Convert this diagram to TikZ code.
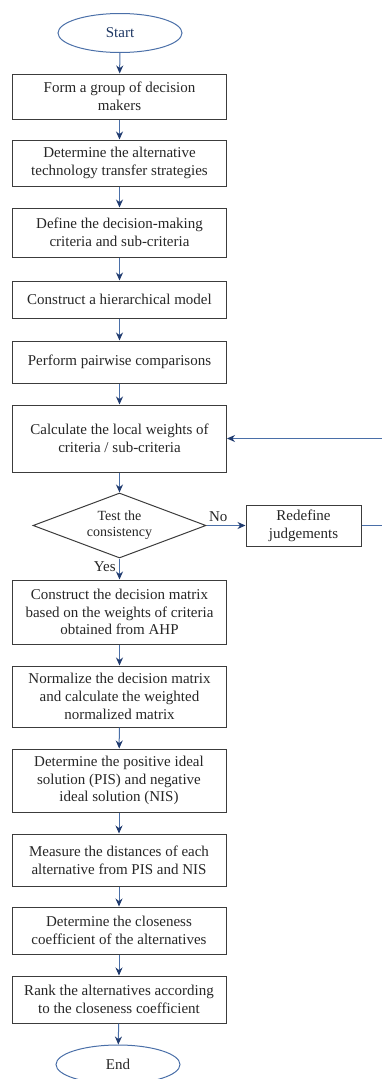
\documentclass[tikz,border=0pt]{standalone}
\usepackage{fontspec}
\setmainfont{Liberation Serif}
\usetikzlibrary{shapes.geometric,arrows.meta}
\definecolor{lineblue}{HTML}{4A6FA8}
\definecolor{tipblue}{HTML}{1F3A6E}
\definecolor{boxgray}{HTML}{3C3C3C}
\definecolor{startblue}{HTML}{1F3864}
\tikzset{
	box/.style={draw=boxgray, line width=1pt, minimum width=214pt, align=center, inner sep=2pt, text=black!85, font=\fontsize{15}{17.7}\selectfont},
	oval/.style={ellipse, draw=lineblue, line width=1pt, minimum width=124pt, minimum height=39pt, inner sep=0pt, font=\fontsize{15}{18}\selectfont},
	arr/.style={draw=lineblue, line width=1pt, -{Stealth[length=8pt,width=7pt,color=tipblue]}},
}

\begin{document}
\begin{tikzpicture}[x=1pt,y=-1pt] %[scale=1]
	\useasboundingbox (0,0) rectangle (382,1079);
	\node[oval, text=startblue] (start) at (120,33) {Start};
	\node[box, minimum height=45] (b1) at (119.5,96.5) {Form a group of decision\\ makers};
	\node[box, minimum height=46] (b2) at (119.5,163) {Determine the alternative\\ technology transfer strategies};
	\node[box, minimum height=49] (b3) at (119.5,232.5) {Define the decision-making\\ criteria and sub-criteria};
	\node[box, minimum height=37] (b4) at (119.5,299.5) {Construct a hierarchical model};
	\node[box, minimum height=42] (b5) at (119.5,362) {Perform pairwise comparisons};
	\node[box, minimum height=67] (b6) at (119.5,438.5) {Calculate the local weights of\\ criteria / sub-criteria};
	\node[diamond, draw=boxgray, line width=1pt, aspect=2.66, minimum width=173, minimum height=65, inner sep=0pt, align=center, text=black!85, font=\fontsize{14}{16}\selectfont] (test) at (119.5,525.5) {Test the\\ consistency};
	\node[box, minimum width=115, minimum height=41] (redef) at (303.5,525.5) {Redefine\\ judgements};
	\node[box, minimum height=64] (b7) at (119.5,612) {Construct the decision matrix\\ based on the weights of criteria\\ obtained from AHP};
	\node[box, minimum height=61] (b8) at (119.5,696.5) {Normalize the decision matrix\\ and calculate the weighted\\ normalized matrix};
	\node[box, minimum height=63] (b9) at (119,780.5) {Determine the positive ideal\\ solution (PIS) and negative\\ ideal solution (NIS)};
	\node[box, minimum height=52] (b10) at (119,860) {Measure the distances of each\\ alternative from PIS and NIS};
	\node[box, minimum height=47] (b11) at (119,930.5) {Determine the closeness\\ coefficient of the alternatives};
	\node[box, minimum height=47] (b12) at (119,999.5) {Rank the alternatives according\\ to the closeness coefficient};
	\node[oval, text=black!85] (end) at (118,1064.5) {End};
	\coordinate (loopb) at (384,525.5);
	\coordinate (loopt) at (384,438.5);

	\draw[arr] (start) -- (b1);
	\draw[arr] (b1) -- (b2);
	\draw[arr] (b2) -- (b3);
	\draw[arr] (b3) -- (b4);
	\draw[arr] (b4) -- (b5);
	\draw[arr] (b5) -- (b6);
	\draw[arr] (b6) -- (test);
	\draw[arr] (test) -- node[anchor=south, pos=0.3, text=black!85, font=\fontsize{15}{18}\selectfont] {No} (redef);
	\draw[arr] (test) -- node[anchor=east, pos=0.4, text=black!85, font=\fontsize{15}{18}\selectfont] {Yes} (b7);
	\draw[arr] (redef.east) -- (loopb) -- (loopt) -- (b6.east);
	\draw[arr] (b7) -- (b8);
	\draw[arr] (b8) -- (b9);
	\draw[arr] (b9) -- (b10);
	\draw[arr] (b10) -- (b11);
	\draw[arr] (b11) -- (b12);
	\draw[arr] (b12) -- (end);

\end{tikzpicture}
\end{document}
